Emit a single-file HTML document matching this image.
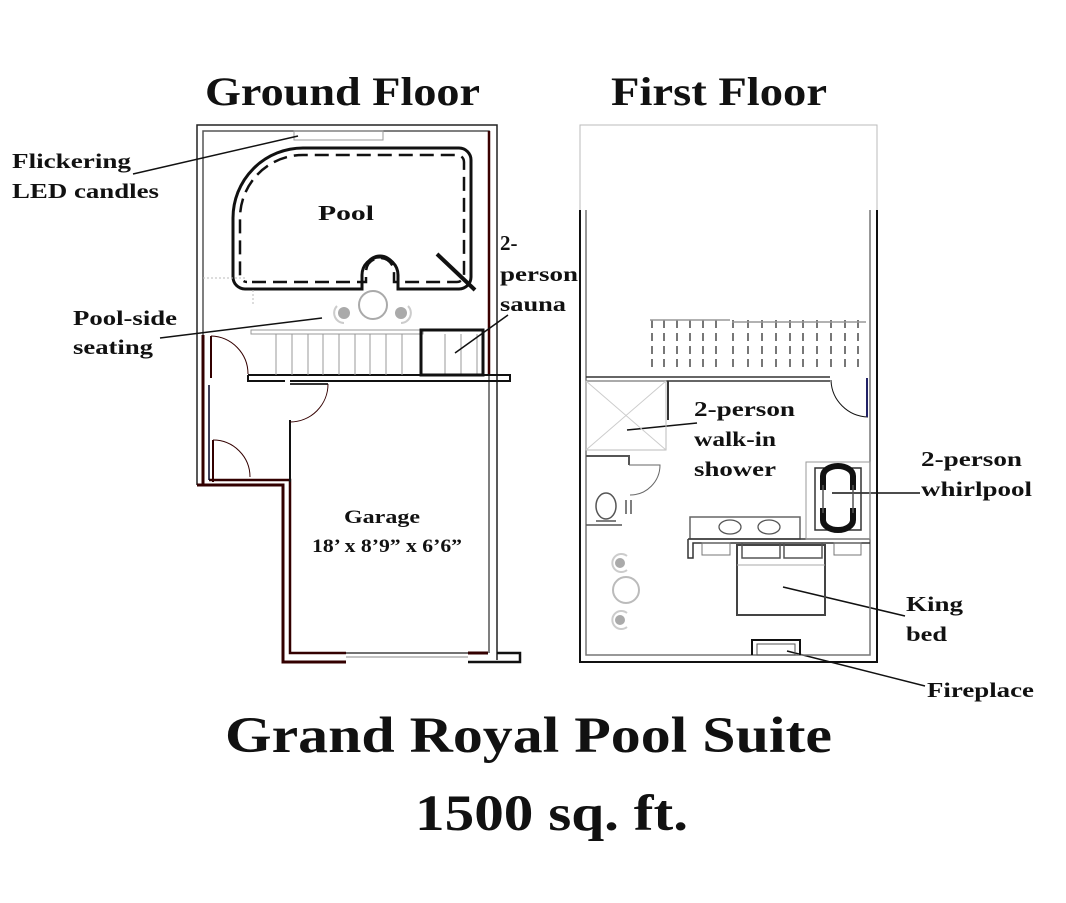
<!DOCTYPE html>
<html><head><meta charset="utf-8"><style>
html,body{margin:0;padding:0;background:#fff;}
svg{display:block;}
text{font-family:"Liberation Serif",serif;font-weight:bold;fill:#111;}
</style></head><body>
<svg width="1066" height="903" viewBox="0 0 1066 903" xmlns="http://www.w3.org/2000/svg">
<rect width="1066" height="903" fill="#fff"/>
<text x="205" y="105" font-size="40" textLength="275" lengthAdjust="spacingAndGlyphs">Ground Floor</text>
<text x="611" y="105" font-size="40" textLength="216" lengthAdjust="spacingAndGlyphs">First Floor</text>
<text x="225" y="752" font-size="51" textLength="607" lengthAdjust="spacingAndGlyphs">Grand Royal Pool Suite</text>
<text x="415" y="830" font-size="51" textLength="273" lengthAdjust="spacingAndGlyphs">1500 sq. ft.</text>

<g fill="none" stroke="#222">
<path d="M197,485 V125 H497 V660" stroke-width="1.5"/>
<path d="M203,480 V131 H489 V653" stroke-width="1.5" stroke="#555"/>
<path d="M489,131 V375" stroke="#3a0000" stroke-width="2.5"/>
<path d="M203,335 V485" stroke="#300" stroke-width="3"/>
<path d="M197,485 H283 V662 H346" stroke="#300" stroke-width="3"/>
<path d="M209,480 H290 V653 H346" stroke="#300" stroke-width="2.5"/>
<path d="M209,385 V480" stroke="#002" stroke-width="1.5"/>
<path d="M468,662 H520 V653 H497" stroke="#111" stroke-width="2.5"/>
<path d="M468,653 H488" stroke="#300" stroke-width="3"/>
<line x1="346" y1="653" x2="468" y2="653" stroke="#444" stroke-width="1.5"/>
<line x1="346" y1="657" x2="468" y2="657" stroke="#888" stroke-width="1"/>
<path d="M248,375 H510 V381 H290" stroke="#111" stroke-width="2"/>
<path d="M248,375 V381 H285" stroke="#111" stroke-width="2"/>
<path d="M211,336 V378" stroke="#300" stroke-width="2"/>
<path d="M211,336 A38,38 0 0 1 248,374" stroke="#300" stroke-width="1"/>
<path d="M290,420 V482" stroke="#111" stroke-width="2"/>
<path d="M290,384 H328" stroke="#333" stroke-width="2"/>
<path d="M328,384 A38,38 0 0 1 290,422" stroke="#300" stroke-width="1"/>
<path d="M213,440 V482" stroke="#300" stroke-width="2"/>
<path d="M213,440 A37,37 0 0 1 250,477" stroke="#300" stroke-width="1"/>
<rect x="294" y="131" width="89" height="9" stroke="#999" stroke-width="1"/>
<path d="M250,289 H362 V275 A18,18 0 0 1 398,275 V289 H459 A12,12 0 0 0 471,277 V160 A12,12 0 0 0 459,148 H303 A70,70 0 0 0 233,218 V277 A12,12 0 0 0 245,289 Z" stroke="#111" stroke-width="3"/>
<path d="M252,282 H366 V272 A14,14 0 0 1 394,272 V282 H457 A7,7 0 0 0 464,275 V162 A7,7 0 0 0 457,155 H304 A63,63 0 0 0 240,218 V275 A7,7 0 0 0 247,282" stroke="#111" stroke-width="2.5" stroke-dasharray="14,7"/>
<path d="M367,263 A15,15 0 0 1 393,263" stroke="#111" stroke-width="2"/>
<line x1="437" y1="254" x2="475" y2="290" stroke="#111" stroke-width="4"/>
<path d="M203,278 H245 M253,290 V305" stroke="#bbb" stroke-width="1" stroke-dasharray="2,2"/>
<circle cx="373" cy="305" r="14" stroke="#aaa" stroke-width="2"/>
<circle cx="344" cy="313" r="6" fill="#aaa" stroke="none"/>
<circle cx="401" cy="313" r="6" fill="#aaa" stroke="none"/>
<path d="M337,306 A10,10 0 0 0 344,323" stroke="#ccc" stroke-width="2"/>
<path d="M408,306 A10,10 0 0 1 401,323" stroke="#ccc" stroke-width="2"/>
<rect x="251" y="330" width="172" height="4" stroke="#999" stroke-width="1"/>
<g stroke="#999" stroke-width="1">
<line x1="276" y1="334" x2="276" y2="375"/><line x1="292" y1="334" x2="292" y2="375"/><line x1="308" y1="334" x2="308" y2="375"/><line x1="323" y1="334" x2="323" y2="375"/><line x1="339" y1="334" x2="339" y2="375"/><line x1="355" y1="334" x2="355" y2="375"/><line x1="370" y1="334" x2="370" y2="375"/><line x1="386" y1="334" x2="386" y2="375"/><line x1="402" y1="334" x2="402" y2="375"/><line x1="445" y1="334" x2="445" y2="375"/><line x1="461" y1="334" x2="461" y2="375"/><line x1="477" y1="334" x2="477" y2="375"/>
</g>
<rect x="421" y="330" width="62" height="45" stroke="#111" stroke-width="3"/>
<g stroke="#111" stroke-width="1.5">
<line x1="133" y1="174" x2="298" y2="136"/>
<line x1="160" y1="338" x2="322" y2="318"/>
<line x1="455" y1="353" x2="508" y2="315"/>
<line x1="627" y1="430" x2="697" y2="423"/>
<line x1="832" y1="493" x2="920" y2="493"/>
<line x1="783" y1="587" x2="905" y2="616"/>
<line x1="787" y1="651" x2="925" y2="686"/>
</g>
</g>
<text x="12" y="168" font-size="21" textLength="119" lengthAdjust="spacingAndGlyphs">Flickering</text>
<text x="12" y="198" font-size="21" textLength="147" lengthAdjust="spacingAndGlyphs">LED candles</text>
<text x="318" y="220" font-size="21" textLength="56" lengthAdjust="spacingAndGlyphs">Pool</text>
<text x="500" y="250" font-size="21">2-</text>
<text x="500" y="281" font-size="21" textLength="78" lengthAdjust="spacingAndGlyphs">person</text>
<text x="500" y="311" font-size="21" textLength="66" lengthAdjust="spacingAndGlyphs">sauna</text>
<text x="73" y="325" font-size="21" textLength="104" lengthAdjust="spacingAndGlyphs">Pool-side</text>
<text x="73" y="354" font-size="21" textLength="80" lengthAdjust="spacingAndGlyphs">seating</text>
<text x="344" y="523" font-size="19" textLength="76" lengthAdjust="spacingAndGlyphs">Garage</text>
<text x="312" y="552" font-size="19" textLength="150" lengthAdjust="spacingAndGlyphs">18’ x 8’9” x 6’6”</text>

<g fill="none" stroke="#222">
<path d="M580,210 V125 H877 V210" stroke="#bbb" stroke-width="1"/>
<path d="M580,210 V662 H877 V210" stroke="#111" stroke-width="2"/>
<path d="M586,210 V655 H870 V210" stroke="#777" stroke-width="1.5"/>
<path d="M752,655 V640 H800 V655" stroke="#111" stroke-width="2"/>
<rect x="757" y="644" width="38" height="11" stroke="#555" stroke-width="1"/>
<g stroke="#777" stroke-width="2" stroke-dasharray="8,5">
<line x1="652" y1="320" x2="652" y2="372"/><line x1="664" y1="320" x2="664" y2="372"/><line x1="677" y1="320" x2="677" y2="372"/><line x1="690" y1="320" x2="690" y2="372"/><line x1="703" y1="320" x2="703" y2="372"/><line x1="716" y1="320" x2="716" y2="372"/><line x1="733" y1="320" x2="733" y2="372"/><line x1="748" y1="320" x2="748" y2="372"/><line x1="762" y1="320" x2="762" y2="372"/><line x1="776" y1="320" x2="776" y2="372"/><line x1="790" y1="320" x2="790" y2="372"/><line x1="803" y1="320" x2="803" y2="372"/><line x1="817" y1="320" x2="817" y2="372"/><line x1="831" y1="320" x2="831" y2="372"/><line x1="845" y1="320" x2="845" y2="372"/><line x1="858" y1="320" x2="858" y2="372"/>
</g>
<path d="M650,320 H730 M732,322 H866" stroke="#999" stroke-width="1.5"/>
<path d="M586,377 H830 M586,381 H830" stroke="#333" stroke-width="1.5"/>
<path d="M831,380 A38,38 0 0 0 868,417" stroke="#111" stroke-width="1"/>
<line x1="867" y1="378" x2="867" y2="417" stroke="#226" stroke-width="2"/>
<rect x="586" y="381" width="80" height="69" stroke="#bbb" stroke-width="1"/>
<path d="M586,381 L666,450 M666,381 L586,450" stroke="#ccc" stroke-width="1"/>
<line x1="668" y1="381" x2="668" y2="420" stroke="#333" stroke-width="2"/>
<path d="M586,456 H629 V465" stroke="#555" stroke-width="2"/>
<path d="M629,465 H660 A30,30 0 0 1 630,495" stroke="#666" stroke-width="1"/>
<path d="M626,500 V514 M631,500 V514" stroke="#555" stroke-width="1.5"/>
<ellipse cx="606" cy="506" rx="10" ry="13" stroke="#555" stroke-width="1.5"/>
<path d="M596,521 H616 M586,525 H622" stroke="#555" stroke-width="1.5"/>
<path d="M690,517 H800 V539 H690 Z" stroke="#666" stroke-width="1.5"/>
<ellipse cx="730" cy="527" rx="11" ry="7" stroke="#555" stroke-width="1.3"/>
<ellipse cx="769" cy="527" rx="11" ry="7" stroke="#555" stroke-width="1.3"/>
<path d="M688,539 H870 M688,539 V558 H693 V543 H870" stroke="#333" stroke-width="1.5"/>
<rect x="806" y="462" width="64" height="77" stroke="#999" stroke-width="1"/>
<rect x="815" y="468" width="46" height="62" stroke="#333" stroke-width="1.5"/>
<path d="M823,490 V476 A15,10 0 0 1 853,476 V490" stroke="#111" stroke-width="6"/>
<path d="M823,508 V520 A15,10 0 0 0 853,520 V508" stroke="#111" stroke-width="6"/>
<path d="M823,485 V513 M853,485 V513" stroke="#555" stroke-width="1.5"/>
<rect x="737" y="545" width="88" height="70" stroke="#444" stroke-width="2"/>
<rect x="742" y="543" width="38" height="15" stroke="#555" stroke-width="1.5"/>
<rect x="784" y="543" width="38" height="15" stroke="#555" stroke-width="1.5"/>
<line x1="737" y1="565" x2="825" y2="565" stroke="#aaa" stroke-width="1"/>
<rect x="702" y="543" width="28" height="12" stroke="#777" stroke-width="1"/>
<rect x="834" y="543" width="27" height="12" stroke="#777" stroke-width="1"/>
<circle cx="626" cy="590" r="13" stroke="#bbb" stroke-width="2"/>
<circle cx="620" cy="563" r="5" fill="#aaa" stroke="none"/>
<circle cx="620" cy="620" r="5" fill="#aaa" stroke="none"/>
<path d="M627,556 A9,9 0 1 0 627,570" stroke="#ccc" stroke-width="2"/>
<path d="M627,613 A9,9 0 1 0 627,627" stroke="#ccc" stroke-width="2"/>
</g>
<text x="694" y="416" font-size="21" textLength="101" lengthAdjust="spacingAndGlyphs">2-person</text>
<text x="694" y="446" font-size="21" textLength="82" lengthAdjust="spacingAndGlyphs">walk-in</text>
<text x="694" y="476" font-size="21" textLength="82" lengthAdjust="spacingAndGlyphs">shower</text>
<text x="921" y="466" font-size="21" textLength="101" lengthAdjust="spacingAndGlyphs">2-person</text>
<text x="921" y="496" font-size="21" textLength="111" lengthAdjust="spacingAndGlyphs">whirlpool</text>
<text x="906" y="611" font-size="21" textLength="57" lengthAdjust="spacingAndGlyphs">King</text>
<text x="906" y="641" font-size="21" textLength="41" lengthAdjust="spacingAndGlyphs">bed</text>
<text x="927" y="697" font-size="21" textLength="107" lengthAdjust="spacingAndGlyphs">Fireplace</text>
</svg>
</body></html>
